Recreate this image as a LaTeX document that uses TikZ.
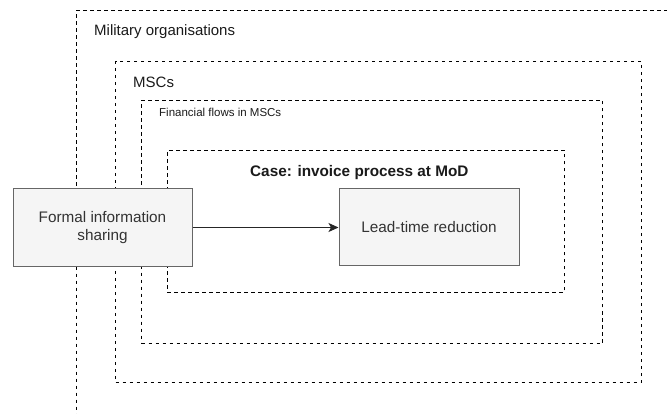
\documentclass[tikz,border=0pt]{standalone}
\usepackage{fontspec}
\setmainfont{Liberation Sans}
\usetikzlibrary{arrows.meta}
\definecolor{boxfill}{HTML}{F5F5F5}
\definecolor{boxline}{HTML}{666666}
\definecolor{boxtext}{HTML}{333333}
\definecolor{labeltext}{HTML}{1A1A1A}
\tikzset{
  frame/.style={draw=black, line width=1pt, dash pattern=on 3.5pt off 3.5pt,
    inner sep=0pt, anchor=north west},
  block/.style={draw=boxline, fill=boxfill, line width=1pt, text=boxtext,
    font=\fontsize{15.3}{17.5}\selectfont, align=center, inner sep=0pt},
  framelabel/.style={anchor=base west, inner sep=0pt, text=labeltext},
  flow/.style={draw=black!85, line width=1.1pt,
    -{Stealth[length=10pt,width=9pt,inset=2.5pt]}}
}
\begin{document}
\begin{tikzpicture}[x=1pt,y=-1pt]
\useasboundingbox (0,0) rectangle (667,414);
\clip (0,0) rectangle (667,414);

% nested scopes, outermost first
\node[frame, minimum width=700pt, minimum height=500pt] (military) at (76,10) {};
\node[frame, minimum width=526pt, minimum height=320.7pt] (mscs) at (115,61) {};
\node[frame, minimum width=461pt, minimum height=243pt] (flows) at (141,100) {};
\node[frame, minimum width=397.3pt, minimum height=141.7pt] (case) at (166.7,150) {};

% scope titles
\node[framelabel, font=\fontsize{15}{17}\selectfont] (militarylabel) at (94,36) {Military organisations};
\node[framelabel, font=\fontsize{15}{17}\selectfont] (mscslabel) at (133,87.5) {MSCs};
\node[framelabel, font=\fontsize{11.5}{14}\selectfont] (flowslabel) at (159,116.7) {Financial flows in MSCs};
\node[framelabel, font=\fontsize{15.3}{18}\selectfont\bfseries] (caselabel) at (250,177) {Case: invoice process at MoD};

% cause and effect
\node[block, minimum width=179pt, minimum height=78pt] (formal) at (102.5,227.5) {Formal information\\sharing};
\node[block, minimum width=180pt, minimum height=77pt] (lead) at (429,227.5) {Lead-time reduction};

\draw[flow] (formal.east) -- (lead.west);
\end{tikzpicture}
\end{document}
